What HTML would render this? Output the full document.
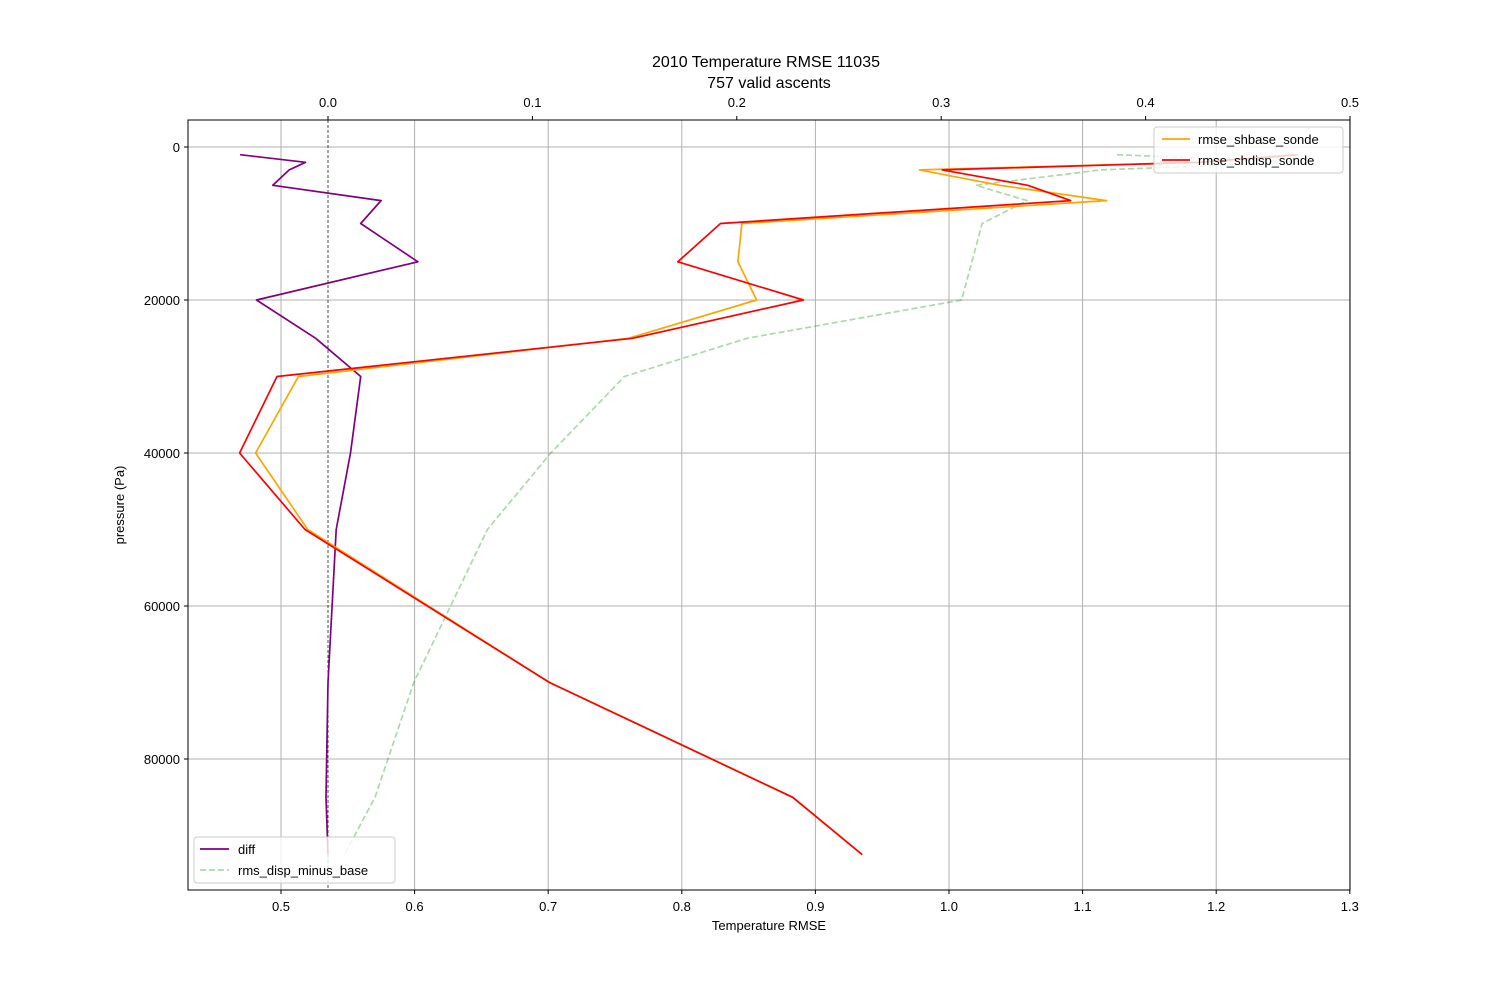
<!DOCTYPE html>
<html><head><meta charset="utf-8"><style>
body{margin:0;background:#fff}
svg text{font-family:"Liberation Sans","DejaVu Sans",sans-serif;fill:#000}
</style></head><body>
<svg id="chart" width="1500" height="1000" viewBox="0 0 1500 1000" xmlns="http://www.w3.org/2000/svg">
<rect width="1500" height="1000" fill="#fff"/>
<g id="grid"></g>
<g id="series"></g>
<g id="axes"></g>
<text x="766" y="67" font-size="16" text-anchor="middle">2010 Temperature RMSE 11035</text>
<text x="769" y="88" font-size="16" text-anchor="middle">757 valid ascents</text>
<text x="769" y="930" font-size="13" text-anchor="middle">Temperature RMSE</text>
<text transform="translate(124,505) rotate(-90)" font-size="13" text-anchor="middle">pressure (Pa)</text>
<g>
<rect x="1154" y="127" width="189" height="46" rx="3" fill="#fff" fill-opacity="0.8" stroke="#ccc"/>
<line x1="1162" y1="139" x2="1190" y2="139" stroke="orange" stroke-width="1.7"/>
<text x="1198" y="144" font-size="13">rmse_shbase_sonde</text>
<line x1="1162" y1="160" x2="1190" y2="160" stroke="red" stroke-width="1.7"/>
<text x="1198" y="165" font-size="13">rmse_shdisp_sonde</text>
</g>
<g>
<rect x="194" y="837" width="201" height="46" rx="3" fill="#fff" fill-opacity="0.8" stroke="#ccc"/>
<line x1="200" y1="849" x2="229" y2="849" stroke="purple" stroke-width="1.7"/>
<text x="238" y="854" font-size="13">diff</text>
<line x1="200" y1="870" x2="229" y2="870" stroke="#2ca02c" stroke-opacity="0.4" stroke-width="1.7" stroke-dasharray="6,3"/>
<text x="238" y="875" font-size="13">rms_disp_minus_base</text>
</g>
</svg>
<script>
const pressure=[1000,2000,3000,5000,7000,10000,15000,20000,25000,30000,40000,50000,70000,85000,92500];
const shbase=[1.261,1.188,0.978,1.038,1.118,0.845,0.842,0.856,0.760,0.513,0.481,0.520,0.701,0.883,0.935];
const shdisp=[1.261,1.188,0.995,1.059,1.091,0.829,0.797,0.891,0.763,0.497,0.469,0.518,0.701,0.883,0.935];
const diff=[-0.043,-0.011,-0.019,-0.027,0.026,0.016,0.044,-0.035,-0.006,0.016,0.011,0.004,0.0,-0.001,0.0];
const rmsDiff=[0.386,0.476,0.378,0.317,0.342,0.320,0.315,0.310,0.205,0.145,0.109,0.078,0.042,0.023,0.008];
const bottomTicks=[0.5,0.6,0.7,0.8,0.9,1.0,1.1,1.2,1.3];
const topTicks=[0.0,0.1,0.2,0.3,0.4,0.5];
const yTicks=[0,20000,40000,60000,80000];
const L=188,R=1350,T=120,B=890;
const xB=v=>281+(v-0.5)*1336;
const xT=v=>328+v*2044;
const yP=p=>147+p*153/20000;
const NS="http://www.w3.org/2000/svg";
function mk(tag,attrs,parent){const e=document.createElementNS(NS,tag);for(const k in attrs)e.setAttribute(k,attrs[k]);parent.appendChild(e);return e;}
const grid=document.getElementById('grid'),axes=document.getElementById('axes'),ser=document.getElementById('series');
bottomTicks.forEach(v=>{const x=xB(v);
 const g=mk('line',{x1:x,x2:x,y1:T,y2:B,stroke:'#b0b0b0','stroke-width':1},grid);
 
 
 mk('line',{x1:x,x2:x,y1:B,y2:B+4,stroke:'#000'},axes);
 const t=mk('text',{x:x,y:B+21,'font-size':13,'text-anchor':'middle'},axes);t.textContent=v.toFixed(1);
 
 
});
topTicks.forEach(v=>{const x=xT(v);
 mk('line',{x1:x,x2:x,y1:T,y2:T-4,stroke:'#000'},axes);
 const t=mk('text',{x:x,y:T-13,'font-size':13,'text-anchor':'middle'},axes);t.textContent=v.toFixed(1);
 
 
});
yTicks.forEach(v=>{const y=yP(v);
 const g=mk('line',{x1:L,x2:R,y1:y,y2:y,stroke:'#b0b0b0','stroke-width':1},grid);
 
 
 mk('line',{x1:L,x2:L-4,y1:y,y2:y,stroke:'#000'},axes);
 const t=mk('text',{x:L-8,y:y+5,'font-size':13,'text-anchor':'end'},axes);t.textContent=v;
 
 
});
const zl=mk('line',{x1:xT(0),x2:xT(0),y1:T,y2:B,stroke:'#000','stroke-width':0.7,'stroke-dasharray':'3,2'},grid);


const fr=mk('rect',{x:L,y:T,width:R-L,height:B-T,fill:'none',stroke:'#000','stroke-width':1},axes);


function line(vals,xf,attrs,name){
 const pts=vals.map((v,i)=>xf(v).toFixed(1)+','+yP(pressure[i]).toFixed(1)).join(' ');
 const p=mk('polyline',Object.assign({points:pts,fill:'none','stroke-width':1.7,'stroke-linejoin':'round'},attrs),ser);
 
 
}
line(rmsDiff,xT,{stroke:'#2ca02c','stroke-opacity':0.4,'stroke-dasharray':'6,3'},'rms-disp-minus-base-line');
line(diff,xT,{stroke:'purple'},'diff-line');
line(shbase,xB,{stroke:'orange'},'rmse-shbase-line');
line(shdisp,xB,{stroke:'red'},'rmse-shdisp-line');
</script>
</body></html>
